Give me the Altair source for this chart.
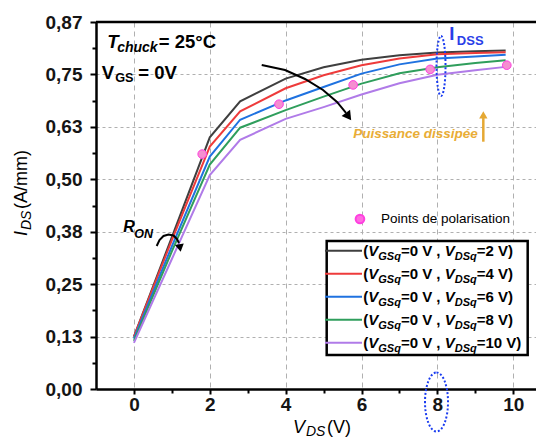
import altair as alt
import pandas as pd

FONT = "Liberation Sans"

# ---------------- data ----------------
vds = [0, 1, 2, 2.8, 4, 5, 6, 7, 8, 9, 9.8]
ids_vdsq2 = [0.125, 0.362, 0.600, 0.686, 0.740, 0.767, 0.785, 0.796, 0.802, 0.805, 0.807]
ids_vdsq4 = [0.125, 0.355, 0.578, 0.662, 0.717, 0.748, 0.772, 0.788, 0.798, 0.801, 0.803]
ids_vdsq6 = [0.120, 0.340, 0.554, 0.642, 0.688, 0.720, 0.752, 0.774, 0.788, 0.793, 0.797]
ids_vdsq8 = [0.115, 0.328, 0.535, 0.623, 0.665, 0.697, 0.728, 0.753, 0.767, 0.777, 0.784]
ids_vdsq10 = [0.110, 0.310, 0.510, 0.594, 0.644, 0.672, 0.702, 0.729, 0.749, 0.760, 0.768]

series_names = ["VDSq=2", "VDSq=4", "VDSq=6", "VDSq=8", "VDSq=10"]
series_colors = ["#3f3f3f", "#ee3b3b", "#1f72e0", "#2f9e5c", "#b07be8"]
legend_ends = ["=2 V)", "=4 V)", "=6 V)", "=8 V)", "=10 V)"]

bias_vds = [1.80, 3.825, 5.78, 7.81, 9.83]
bias_ids = [0.560, 0.679, 0.725, 0.762, 0.772]

x_ticks = [0, 2, 4, 6, 8, 10]
x_minor = [1, 3, 5, 7, 9]
y_ticks = [0, 0.125, 0.25, 0.375, 0.5, 0.625, 0.75, 0.875]
y_minor = [0.0625, 0.1875, 0.3125, 0.4375, 0.5625, 0.6875, 0.8125]
y_labels = ["0,00", "0,13", "0,25", "0,38", "0,50", "0,63", "0,75", "0,87"]

# ---------------- tables ----------------
rows = []
for name, vals in zip(series_names, [ids_vdsq2, ids_vdsq4, ids_vdsq6, ids_vdsq8, ids_vdsq10]):
    for xv, yv in zip(vds, vals):
        rows.append({"vds": xv, "ids": yv, "serie": name})
curve_df = pd.DataFrame(rows)
bias_df = pd.DataFrame({"vds": bias_vds, "ids": bias_ids})

color_scale = alt.Scale(domain=series_names, range=series_colors)
label_expr = "[" + ",".join("'%s'" % s for s in y_labels) + "][round(datum.value*8)]"

axis_common = dict(
    title=None, labelFont=FONT, labelFontSize=19, labelFontWeight="bold", labelColor="#151515",
    domainColor="black", domainWidth=2.5, tickColor="black", tickWidth=2,
    gridColor="#b0b0b0", gridWidth=1, labelFlush=False, labelOverlap=False,
)

curves = alt.Chart(curve_df).mark_line(strokeWidth=2).encode(
    x=alt.X("vds:Q", scale=alt.Scale(domain=[-1, 10.6], nice=False, zero=False),
            axis=alt.Axis(values=x_ticks, format="d", tickSize=5, labelPadding=1,
                          grid=True, gridDash=[5, 4], orient="bottom", **axis_common)),
    y=alt.Y("ids:Q", scale=alt.Scale(domain=[0, 0.875], nice=False, zero=True),
            axis=alt.Axis(values=y_ticks, labelExpr=label_expr, tickSize=6, labelPadding=8,
                          grid=True, gridDash=[3, 3], orient="left", **axis_common)),
    color=alt.Color("serie:N", scale=color_scale, legend=None),
)

minor = alt.Chart(curve_df).mark_point(opacity=0).encode(
    x=alt.X("vds:Q", axis=alt.Axis(values=x_minor, labels=False, grid=False, domain=False,
                                   tickSize=4, tickWidth=2, tickColor="black", orient="bottom", title=None)),
    y=alt.Y("ids:Q", axis=alt.Axis(values=y_minor, labels=False, grid=False, domain=False,
                                   tickSize=4, tickWidth=2, tickColor="black", orient="left", title=None)),
)

points = alt.Chart(bias_df).mark_point(filled=True, size=75, fill="#f58fd0", stroke="#ff3fe0",
                                       strokeWidth=1, opacity=1).encode(
    x=alt.X("vds:Q", axis=None), y=alt.Y("ids:Q", axis=None))


def xy(d):
    return dict(x=alt.X("x:Q", axis=None), y=alt.Y("y:Q", axis=None))


def frag(x, y, text, dx=0, dy=0, size=15, italic=False, bold=True, color="black", angle=0):
    d = pd.DataFrame({"x": [x], "y": [y]})
    return alt.Chart(d).mark_text(
        text=text, align="left", baseline="alphabetic", dx=dx, dy=dy, fontSize=size, font=FONT,
        fontStyle="italic" if italic else "normal", fontWeight="bold" if bold else "normal",
        color=color, angle=angle).encode(**xy(d))


# top frame line
top_df = pd.DataFrame({"x": [-1], "x2": [10.6], "y": [0.875]})
top_rule = alt.Chart(top_df).mark_rule(color="black", strokeWidth=2.5).encode(
    x=alt.X("x:Q", axis=None), x2="x2:Q", y=alt.Y("y:Q", axis=None))

# legend box
box_df = pd.DataFrame({"x": [5.082], "x2": [10.381], "y": [0.3529], "y2": [0.0811]})
box = alt.Chart(box_df).mark_rect(fill="white", stroke="black", strokeWidth=2.5).encode(
    x=alt.X("x:Q", axis=None), x2="x2:Q", y=alt.Y("y:Q", axis=None), y2="y2:Q")

leg_df = pd.DataFrame({"y": [0.3297, 0.2749, 0.2201, 0.1652, 0.1104], "serie": series_names,
                       "end": legend_ends, "x": [5.037] * 5, "x2": [6.013] * 5, "xt": [6.047] * 5})
leg_lines = alt.Chart(leg_df).mark_rule(strokeWidth=2).encode(
    x=alt.X("x:Q", axis=None), x2="x2:Q", y=alt.Y("y:Q", axis=None),
    color=alt.Color("serie:N", scale=color_scale, legend=None))


def legfrag(text=None, field=None, dx=0, dy=5.5, size=15, italic=False):
    kw = dict(align="left", baseline="alphabetic", dx=dx, dy=dy, fontSize=size, font=FONT,
              fontStyle="italic" if italic else "normal", fontWeight="bold", color="black")
    if text is not None:
        kw["text"] = text
    enc = dict(x=alt.X("xt:Q", axis=None), y=alt.Y("y:Q", axis=None))
    if field is not None:
        enc["text"] = alt.Text(field + ":N")
    return alt.Chart(leg_df).mark_text(**kw).encode(**enc)


leg_texts = [
    legfrag("(", dx=0),
    legfrag("V", dx=5, italic=True),
    legfrag("GSq", dx=15, dy=9.5, size=11, italic=True),
    legfrag("=0 V , ", dx=37.6),
    legfrag("V", dx=81.4, italic=True),
    legfrag("DSq", dx=91.4, dy=9.5, size=11, italic=True),
    legfrag(field="end", dx=113.4),
]

# points de polarisation legend
pp_df = pd.DataFrame({"x": [5.959], "y": [0.4053]})
pp_point = alt.Chart(pp_df).mark_point(filled=True, size=75, fill="#ff6be0", stroke="#ff3fe0",
                                       opacity=1).encode(**xy(pp_df))
pp_text = frag(6.514, 0.3958, "Points de polarisation", size=13.5, bold=False)

# annotations
ann = [
    frag(-0.705, 0.8123, "T", size=18.5, italic=True),
    frag(-0.705, 0.8123, "chuck", dx=10, dy=3.4, size=14, italic=True),
    frag(-0.705, 0.8123, "= 25°C", dx=51.6, size=18.5),
    frag(-0.850, 0.7391, "V", size=18.5),
    frag(-0.850, 0.7391, "GS", dx=13.5, dy=3.2, size=12.7),
    frag(-0.850, 0.7391, "= 0V", dx=36.5, size=18.5),
    frag(8.315, 0.8321, "I", size=18.6, color="#2a3ee8"),
    frag(8.315, 0.8321, "DSS", dx=7.5, dy=5, size=13, color="#2a3ee8"),
    frag(5.783, 0.5996, "Puissance dissipée", size=13.5, italic=True, color="#e9ad36"),
    frag(-0.280, 0.3750, "R", size=16, italic=True),
    frag(-0.280, 0.3750, "ON", dx=11, dy=6.5, size=12.5, italic=True),
    # axis titles
    frag(-2.806, 0.3648, "I", size=18, italic=True, bold=False, angle=270),
    frag(-2.806, 0.3648, "DS", dx=6, dy=3.5, size=14, italic=True, bold=False, angle=270),
    frag(-2.806, 0.3648, "(A/mm)", dx=27, size=18, bold=False, angle=270),
    frag(4.194, -0.1050, "V", size=18, italic=True, bold=False),
    frag(4.194, -0.1050, "DS", dx=13, dy=3, size=14, italic=True, bold=False),
    frag(4.194, -0.1050, "(V)", dx=34, size=18, bold=False),
]

# curved black arrow (dissipated power)
arr_df = pd.DataFrame({"x": [3.369, 3.983, 4.510, 4.985, 5.354, 5.591],
                       "y": [0.7725, 0.7606, 0.7391, 0.7129, 0.6843, 0.6581], "o": range(6)})
arr_line = alt.Chart(arr_df).mark_line(color="black", strokeWidth=2).encode(
    x=alt.X("x:Q", axis=None), y=alt.Y("y:Q", axis=None), order="o:Q")
arr_head_df = pd.DataFrame({"x": [5.657], "y": [0.6497]})
arr_head = alt.Chart(arr_head_df).mark_point(shape="triangle-right", filled=True, size=110,
                                             color="black", opacity=1, angle=54).encode(**xy(arr_head_df))

# R_ON arc
ron_df = pd.DataFrame({"x": [0.600, 0.674, 0.780, 0.911, 1.043, 1.135, 1.188],
                       "y": [0.3409, 0.3553, 0.3648, 0.3684, 0.3660, 0.3576, 0.3481], "o": range(7)})
ron_line = alt.Chart(ron_df).mark_line(color="black", strokeWidth=2).encode(
    x=alt.X("x:Q", axis=None), y=alt.Y("y:Q", axis=None), order="o:Q")
ron_head_df = pd.DataFrame({"x": [1.215], "y": [0.3362]})
ron_head = alt.Chart(ron_head_df).mark_point(shape="triangle-right", filled=True, size=80,
                                             color="black", opacity=1, angle=80).encode(**xy(ron_head_df))

# gold arrow
gold_df = pd.DataFrame({"x": [9.211], "y": [0.5896], "y2": [0.6460]})
gold_line = alt.Chart(gold_df).mark_rule(color="#e5a833", strokeWidth=2.5).encode(
    x=alt.X("x:Q", axis=None), y=alt.Y("y:Q", axis=None), y2="y2:Q")
gold_head_df = pd.DataFrame({"x": [9.211], "y": [0.6533]})
gold_head = alt.Chart(gold_head_df).mark_point(shape="triangle-up", filled=True, size=70,
                                               color="#e5a833", opacity=1).encode(**xy(gold_head_df))

# dotted ellipses
ell_top = "M0,-1C0.083,-1 0.15,-0.552 0.15,0C0.15,0.552 0.083,1 0,1C-0.083,1 -0.15,0.552 -0.15,0C-0.15,-0.552 -0.083,-1 0,-1Z"
ell_bot = "M0,-1C0.215,-1 0.39,-0.552 0.39,0C0.39,0.552 0.215,1 0,1C-0.215,1 -0.39,0.552 -0.39,0C-0.39,-0.552 -0.215,-1 0,-1Z"
e1_df = pd.DataFrame({"x": [8.096], "y": [0.7701]})
e2_df = pd.DataFrame({"x": [7.977], "y": [-0.0310]})
ell1 = alt.Chart(e1_df).mark_point(shape=ell_top, size=3600, filled=False, color="#1a3cf0",
                                   strokeWidth=2, strokeDash=[2, 2], opacity=1).encode(**xy(e1_df))
ell2 = alt.Chart(e2_df).mark_point(shape=ell_bot, size=3481, filled=False, color="#1a3cf0",
                                   strokeWidth=2, strokeDash=[2, 2], opacity=1).encode(**xy(e2_df))

chart = alt.layer(
    curves, minor, top_rule, points, ell1, ell2,
    box, leg_lines, *leg_texts, pp_point, pp_text,
    arr_line, arr_head, ron_line, ron_head, gold_line, gold_head, *ann,
).resolve_axis(x="independent", y="independent").properties(
    width=440, height=367,
    autosize=alt.AutoSizeParams(type="none"),
    padding={"left": 88, "top": 14, "right": 0, "bottom": 51},
).configure_view(stroke=None)

chart.save("out.html", embed_options={"renderer": "svg", "actions": False})
